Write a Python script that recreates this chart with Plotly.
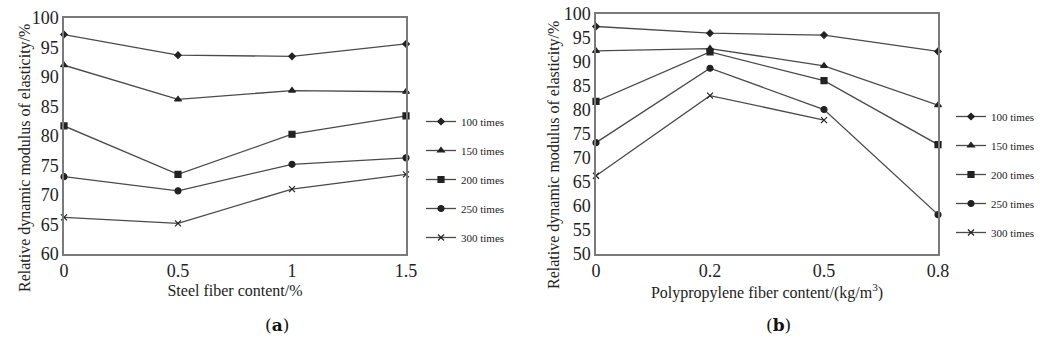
import plotly.graph_objects as go

# ---- data ----
series_names = ["100 times", "150 times", "200 times", "250 times", "300 times"]
steel_x = [0, 0.5, 1, 1.5]
steel_vals = {
    "100 times": [97.2, 93.7, 93.5, 95.6],
    "150 times": [92.0, 86.2, 87.7, 87.5],
    "200 times": [81.7, 73.5, 80.3, 83.4],
    "250 times": [73.1, 70.7, 75.2, 76.3],
    "300 times": [66.2, 65.2, 71.0, 73.5],
}
pp_x = ["0", "0.2", "0.5", "0.8"]
pp_vals = {
    "100 times": [97.4, 96.0, 95.6, 92.2],
    "150 times": [92.3, 92.8, 89.2, 81.0],
    "200 times": [81.8, 92.1, 86.1, 72.8],
    "250 times": [73.2, 88.7, 80.1, 58.2],
    "300 times": [66.3, 83.0, 77.9, None],
}
steel_ticks = [0, 0.5, 1, 1.5]
steel_ticklabels = ["0", "0.5", "1", "1.5"]
steel_yticks = [60, 65, 70, 75, 80, 85, 90, 95, 100]
pp_yticks = [50, 55, 60, 65, 70, 75, 80, 85, 90, 95, 100]
y_title = "Relative dynamic modulus of elasticity/%"

symbols = ["diamond", "triangle-up", "square", "circle", "x-thin-open"]
sizes = [5, 6, 6, 6, 6]

LINE = "#4a4a4a"
AX = "#7a7a7a"
TXT = "#222"
FONT = "Liberation Serif"
W, H = 1045, 349

fig = go.Figure()
for i, name in enumerate(series_names):
    fig.add_trace(go.Scatter(
        x=steel_x, y=steel_vals[name], name=name, mode="lines+markers",
        line=dict(color=LINE, width=1.3),
        marker=dict(symbol=symbols[i], size=sizes[i], color="#222",
                    line=dict(color="#222", width=1.2)),
        xaxis="x", yaxis="y", legend="legend", legendgroup="a" + str(i),
        cliponaxis=False,
    ))
for i, name in enumerate(series_names):
    fig.add_trace(go.Scatter(
        x=pp_x, y=pp_vals[name], name=name, mode="lines+markers",
        line=dict(color=LINE, width=1.3),
        marker=dict(symbol=symbols[i], size=sizes[i], color="#222",
                    line=dict(color="#222", width=1.2)),
        xaxis="x2", yaxis="y2", legend="legend2", legendgroup="b" + str(i),
        cliponaxis=False, connectgaps=False,
    ))

axis_common = dict(showgrid=False, zeroline=False, showline=True, mirror=True,
                   linecolor=AX, linewidth=1.5, ticks="", automargin=False,
                   tickfont=dict(family=FONT, size=18, color=TXT))

title_font = dict(family=FONT, size=16, color=TXT)
ytitle_font = dict(family=FONT, size=16, color=TXT)

legend_common = dict(font=dict(family=FONT, size=11, color=TXT),
                     bgcolor="rgba(0,0,0,0)", tracegroupgap=10,
                     itemwidth=30, xanchor="left", yanchor="top")

fig.update_layout(
    template="none",
    width=W, height=H, margin=dict(l=0, r=0, t=0, b=0),
    paper_bgcolor="white", plot_bgcolor="white",
    font=dict(family=FONT, color=TXT),
    showlegend=True,
    xaxis=dict(domain=[64 / W, 406 / W], range=[0, 1.5], tickvals=steel_ticks,
               ticktext=steel_ticklabels, anchor="y",
               title=dict(text="Steel fiber content/%", font=title_font, standoff=4),
               **axis_common),
    yaxis=dict(domain=[1 - 254 / H, 1 - 18 / H], range=[60, 100], tickvals=steel_yticks,
               anchor="x", **axis_common),
    xaxis2=dict(domain=[596 / W, 938 / W], type="category", range=[0, 3],
                anchor="y2",
                title=dict(text="Polypropylene fiber content/(kg/m<sup>3</sup>)",
                           font=title_font, standoff=4),
                **axis_common),
    yaxis2=dict(domain=[1 - 254 / H, 1 - 14 / H], range=[50, 100], tickvals=pp_yticks,
                anchor="x2", **axis_common),
    legend=dict(x=421 / W, y=1 - 107 / H, **legend_common),
    legend2=dict(x=951 / W, y=1 - 102 / H, **legend_common),
    annotations=[
        dict(text=y_title, x=25 / W, y=1 - 158 / H, xref="paper", yref="paper",
             textangle=-90, xanchor="center", yanchor="middle", showarrow=False,
             font=ytitle_font),
        dict(text=y_title, x=554 / W, y=1 - 155 / H, xref="paper", yref="paper",
             textangle=-90, xanchor="center", yanchor="middle", showarrow=False,
             font=ytitle_font),
        dict(text="(<b>a</b>)", x=263 / W, y=1 - 337 / H, xref="paper", yref="paper",
             showarrow=False, font=dict(family="DejaVu Serif", size=17, color="#111")),
        dict(text="(<b>b</b>)", x=793 / W, y=1 - 337 / H, xref="paper", yref="paper",
             showarrow=False, font=dict(family="DejaVu Serif", size=17, color="#111")),
    ],
)

fig.write_html("out.html")
